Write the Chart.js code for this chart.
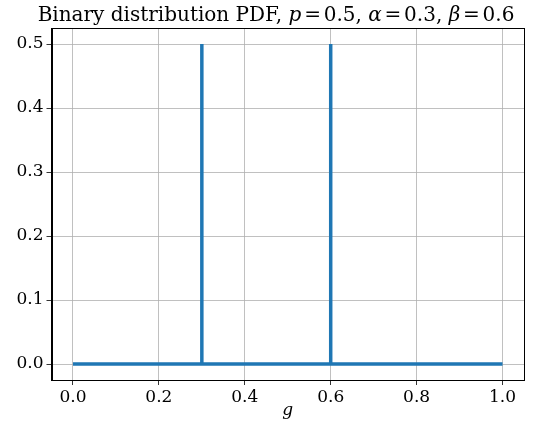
<!DOCTYPE html>
<html>
<head>
<meta charset="utf-8">
<script src="https://cdn.jsdelivr.net/npm/chart.js@4/dist/chart.umd.min.js"></script>
<style>
  html, body { margin: 0; padding: 0; background: #fff; }
  #wrap { width: 543px; height: 430px; }
</style>
</head>
<body>
<div id="wrap"><canvas id="c" width="543" height="430"></canvas></div>
<script>
// PDF of the binary distribution: two point masses at alpha and beta
const gValues   = [0.0, 0.3, 0.3, 0.3, 0.6, 0.6, 0.6, 1.0];
const pdfValues = [0.0, 0.0, 0.5, 0.0, 0.0, 0.5, 0.0, 0.0];
const xTicks = [0.0, 0.2, 0.4, 0.6, 0.8, 1.0];
const yTicks = [0.0, 0.1, 0.2, 0.3, 0.4, 0.5];

const SERIF = '"DejaVu Serif", serif';
const BLUE = '#1f77b4';

// Title pieces: [text, italic, gap after in em]
const titleParts = [
  ['Binary distribution PDF, ', false, 0],
  ['p', true, 0.14], ['=', false, 0.14], ['0.5, ', false, 0],
  ['\u03b1', true, 0.14], ['=', false, 0.14], ['0.3, ', false, 0],
  ['\u03b2', true, 0.14], ['=', false, 0.14], ['0.6', false, 0]
];

const frame = {
  id: 'frame',
  afterDraw(chart) {
    const { ctx, chartArea: a } = chart;
    ctx.save();
    ctx.strokeStyle = '#000';
    ctx.lineWidth = 1;
    ctx.strokeRect(Math.round(a.left) + 0.5, Math.round(a.top) + 0.5,
                   Math.round(a.right - a.left) - 1, Math.round(a.bottom - a.top));
    // title with italic math symbols
    const size = 20;
    const fontFor = it => (it ? 'italic ' : '') + size + 'px ' + SERIF;
    let total = 0;
    titleParts.forEach(([t, it, gap]) => {
      ctx.font = fontFor(it); total += ctx.measureText(t).width + gap * size;
    });
    let x = 276 - total / 2;
    ctx.fillStyle = '#000';
    ctx.textBaseline = 'alphabetic';
    ctx.textAlign = 'left';
    titleParts.forEach(([t, it, gap]) => {
      ctx.font = fontFor(it);
      ctx.fillText(t, x, 21);
      x += ctx.measureText(t).width + gap * size;
    });
    // x axis label
    ctx.font = 'italic 17px ' + SERIF;
    ctx.textAlign = 'center';
    ctx.fillText('g', (a.left + a.right) / 2, 415);
    ctx.restore();
  }
};

new Chart(document.getElementById('c'), {
  type: 'scatter',
  data: {
    datasets: [{
      data: gValues.map((g, i) => ({ x: g, y: pdfValues[i] })),
      showLine: true,
      borderColor: BLUE,
      borderWidth: 3.5,
      pointRadius: 0,
      tension: 0,
      borderCapStyle: 'butt',
      borderJoinStyle: 'miter'
    }]
  },
  options: {
    responsive: false,
    animation: false,
    devicePixelRatio: 1,
    layout: { padding: { top: 28, right: 19, left: 0, bottom: 0 } },
    plugins: { legend: { display: false }, tooltip: { enabled: false }, title: { display: false } },
    scales: {
      x: {
        type: 'linear',
        min: -0.05, max: 1.05,
        afterBuildTicks: s => { s.ticks = xTicks.map(v => ({ value: v })); },
        afterFit: s => { s.height = 50; },
        ticks: {
          callback: v => v.toFixed(1),
          font: { family: SERIF, size: 17 },
          color: '#000',
          padding: 2,
          maxRotation: 0
        },
        grid: { color: '#b0b0b0', lineWidth: 0.8, tickColor: '#000', tickLength: 5, drawTicks: true },
        border: { display: true, color: '#000', width: 1 }
      },
      y: {
        type: 'linear',
        min: -0.025, max: 0.525,
        afterBuildTicks: s => { s.ticks = yTicks.map(v => ({ value: v })); },
        afterFit: s => { s.width = 51.5; },
        ticks: {
          callback: v => v.toFixed(1),
          font: { family: SERIF, size: 17 },
          color: '#000',
          padding: 3
        },
        grid: { color: '#b0b0b0', lineWidth: 0.8, tickColor: '#000', tickLength: 5, drawTicks: true },
        border: { display: true, color: '#000', width: 1 }
      }
    }
  },
  plugins: [frame]
});
</script>
</body>
</html>
